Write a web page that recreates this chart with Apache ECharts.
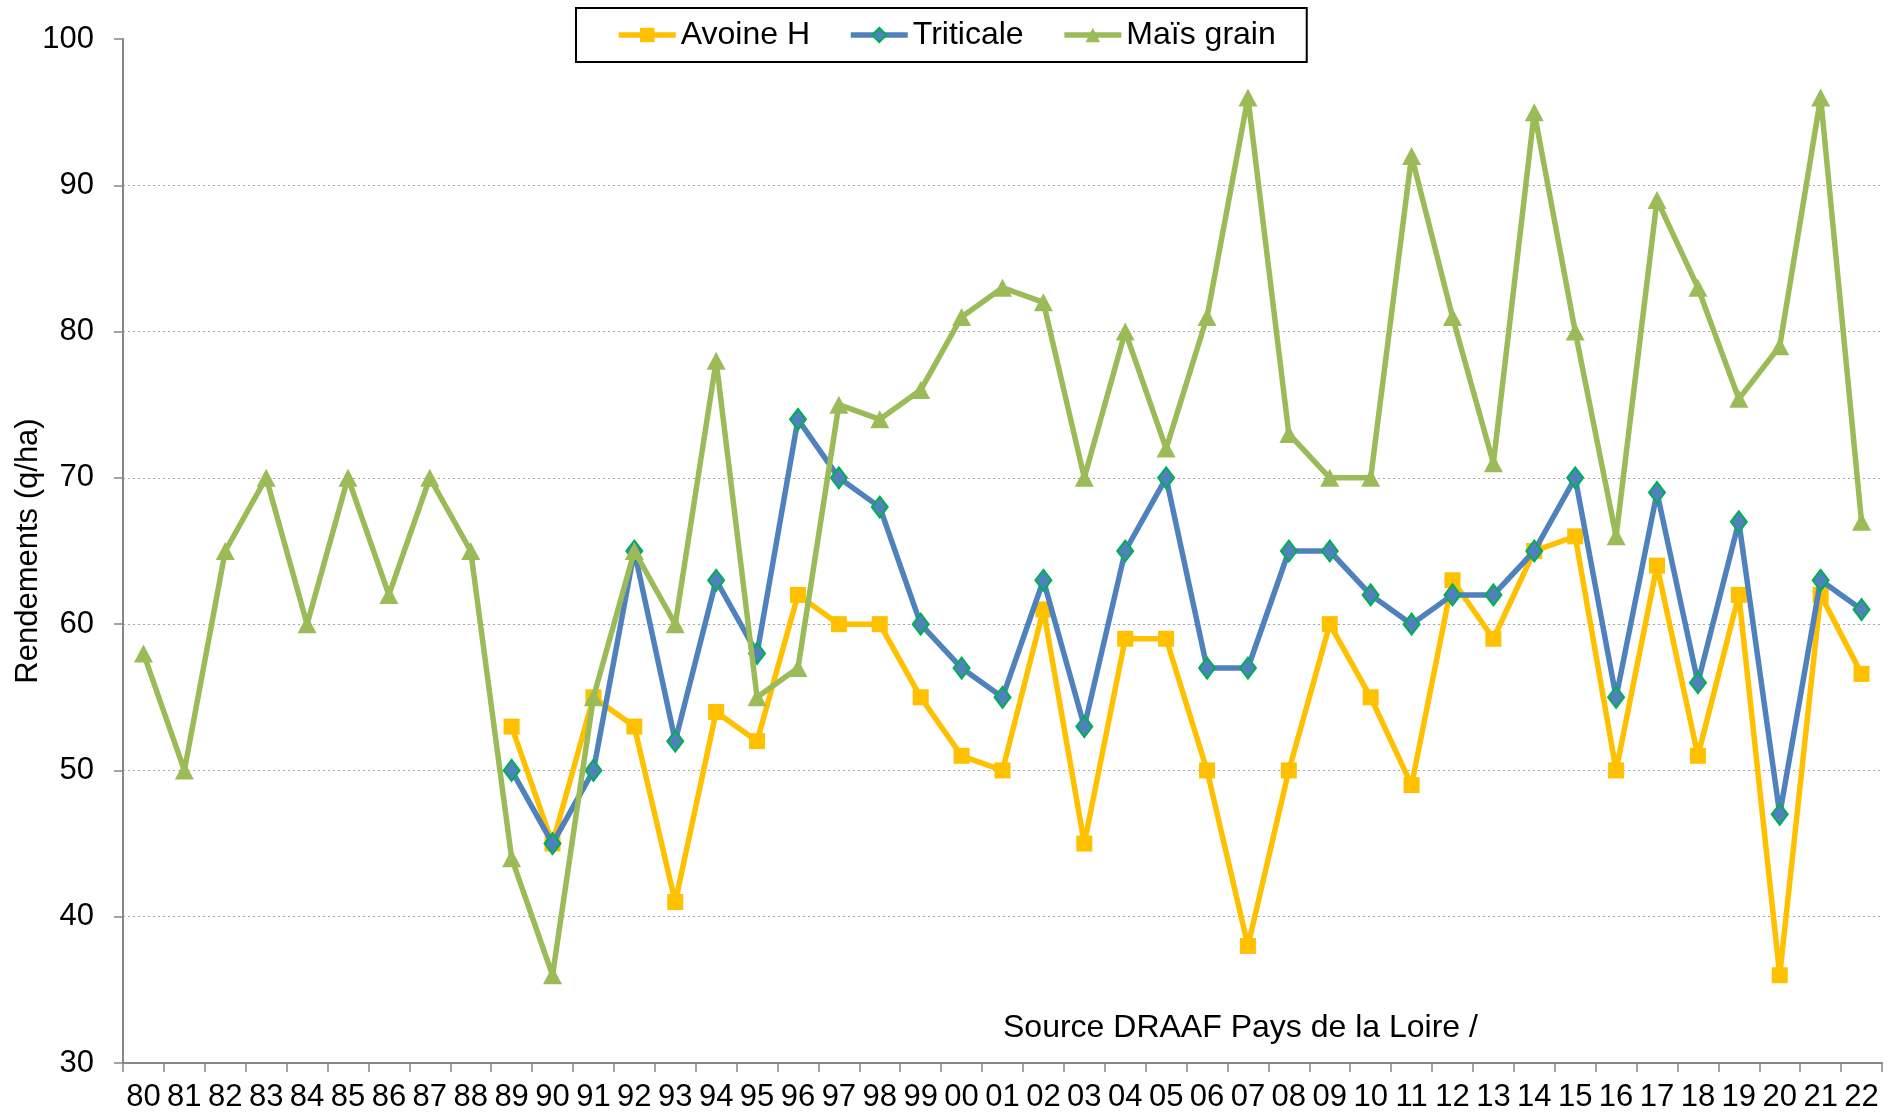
<!DOCTYPE html>
<html>
<head>
<meta charset="utf-8">
<script src="https://cdn.jsdelivr.net/npm/echarts@6/dist/echarts.min.js"></script>
<style>
html,body{margin:0;padding:0;background:#fff;}
#chart{width:1894px;height:1117px;}
</style>
</head>
<body>
<div id="chart"></div>
<script>
const years = ['80','81','82','83','84','85','86','87','88','89','90','91','92','93','94','95','96','97','98','99','00','01','02','03','04','05','06','07','08','09','10','11','12','13','14','15','16','17','18','19','20','21','22'];
const avoineH = [null,null,null,null,null,null,null,null,null,53,45,55,53,41,54,52,62,60,60,55,51,50,61,45,59,59,50,38,50,60,55,49,63,59,65,66,50,64,51,62,36,62,56.6];
const triticale = [null,null,null,null,null,null,null,null,null,50,45,50,65,52,63,58,74,70,68,60,57,55,63,53,65,70,57,57,65,65,62,60,62,62,65,70,55,69,56,67,47,63,61];
const maisGrain = [58,50,65,70,60,70,62,70,65,44,36,55,65,60,78,55,57,75,74,76,81,83,82,70,80,72,81,96,73,70,70,92,81,71,95,80,66,89,83,75.4,79,96,67];
const yTicks = {min:30, max:100, interval:10};

const FONT = 'Liberation Sans, Arial, sans-serif';
const chart = echarts.init(document.getElementById('chart'), null, {renderer:'canvas'});
chart.setOption({
  animation:false,
  backgroundColor:'#ffffff',
  textStyle:{fontFamily:FONT, color:'#000'},
  grid:{left:123, right:12, top:39, bottom:54, containLabel:false, outerBoundsMode:'none'},
  legend:{
    left:576, top:8,
    padding:[11,31,11,40],
    itemGap:38,
    itemWidth:57, itemHeight:18,
    borderColor:'#000', borderWidth:2,
    lineStyle:{width:5.5},
    textStyle:{fontSize:32, color:'#000', fontFamily:FONT},
    data:['Avoine H','Triticale','Maïs grain']
  },
  graphic:[{
    type:'text', left:1003, top:1012,
    style:{text:'Source DRAAF Pays de la Loire /', font:'32px ' + FONT, fill:'#000'}
  }],
  xAxis:{
    type:'category', data:years, boundaryGap:true,
    axisLine:{lineStyle:{color:'#868686', width:2}},
    axisTick:{show:true, alignWithLabel:false, length:9, lineStyle:{color:'#868686', width:1.5}},
    axisLabel:{interval:0, fontSize:31, color:'#000', margin:19, fontFamily:FONT},
    splitLine:{show:false}
  },
  yAxis:{
    type:'value', min:yTicks.min, max:yTicks.max, interval:yTicks.interval,
    name:'Rendements (q/ha)', nameLocation:'middle', nameGap:79, nameRotate:90,
    nameMoveOverlap:false,
    nameTextStyle:{fontSize:31, color:'#000', fontFamily:FONT},
    axisLine:{show:true, lineStyle:{color:'#868686', width:2}},
    axisTick:{show:true, length:9, lineStyle:{color:'#868686', width:1.5}},
    axisLabel:{fontSize:31, color:'#000', margin:29, fontFamily:FONT},
    splitLine:{show:true, showMaxLine:false, showMinLine:false, lineStyle:{color:'#a6a6a6', width:1.2, type:[2,3]}}
  },
  series:[
    {
      name:'Avoine H', type:'line', data:avoineH, connectNulls:false,
      showAllSymbol:true, symbol:'rect', symbolSize:16,
      lineStyle:{color:'#FFC000', width:5.5},
      itemStyle:{color:'#FFC000', borderWidth:0},
      z:2
    },
    {
      name:'Triticale', type:'line', data:triticale, connectNulls:false,
      showAllSymbol:true, symbol:'diamond', symbolSize:[16,21],
      lineStyle:{color:'#4F81BD', width:5.5},
      itemStyle:{color:'#4F81BD', borderColor:'#00B050', borderWidth:2},
      z:3
    },
    {
      name:'Maïs grain', type:'line', data:maisGrain,
      showAllSymbol:true, symbol:'triangle', symbolSize:[19,18],
      lineStyle:{color:'#9BBB59', width:5.5},
      itemStyle:{color:'#9BBB59', borderWidth:0},
      z:4
    }
  ]
});
</script>
</body>
</html>
